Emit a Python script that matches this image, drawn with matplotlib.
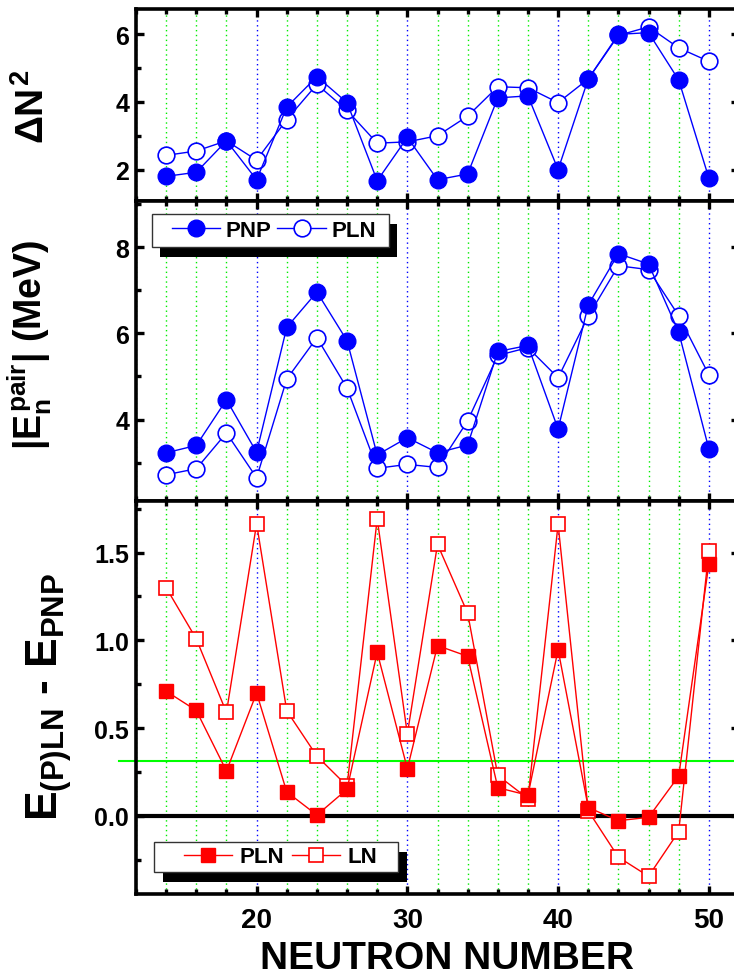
import matplotlib
matplotlib.use("Agg")
import matplotlib.pyplot as plt
from matplotlib.ticker import MultipleLocator, FormatStrFormatter
from matplotlib.lines import Line2D
from matplotlib.patches import Rectangle

plt.rcParams['font.family'] = ['Liberation Sans', 'DejaVu Sans']
plt.rcParams['font.weight'] = 'bold'
plt.rcParams['mathtext.fontset'] = 'custom'
plt.rcParams['mathtext.rm'] = 'Liberation Sans:bold'
plt.rcParams['mathtext.it'] = 'Liberation Sans:bold'
plt.rcParams['mathtext.bf'] = 'Liberation Sans:bold'
plt.rcParams['mathtext.sf'] = 'Liberation Sans:bold'

# Neutron numbers
neutrons = [14, 16, 18, 20, 22, 24, 26, 28, 30, 32, 34, 36, 38, 40, 42, 44, 46, 48, 50]

# Particle-number fluctuation
dn2_pnp = [1.80, 1.92, 2.85, 1.70, 3.85, 4.75, 3.98, 1.67, 2.95, 1.70, 1.87, 4.12, 4.18, 2.00, 4.68, 6.00, 6.05, 4.65, 1.75]
dn2_pln = [2.42, 2.55, 2.85, 2.28, 3.48, 4.52, 3.75, 2.78, 2.82, 3.00, 3.58, 4.45, 4.42, 3.98, 4.68, 5.97, 6.22, 5.60, 5.20]

# Neutron pairing energy |E_n^pair| (MeV)
epair_pnp = [3.23, 3.40, 4.46, 3.24, 6.14, 6.96, 5.83, 3.18, 3.58, 3.23, 3.41, 5.58, 5.72, 3.78, 6.66, 7.85, 7.61, 6.03, 3.32]
epair_pln = [2.72, 2.86, 3.69, 2.65, 4.94, 5.90, 4.73, 2.87, 2.96, 2.89, 3.97, 5.49, 5.67, 4.97, 6.40, 7.57, 7.48, 6.41, 5.04]

# Energy differences with respect to PNP
de_pln = [0.71, 0.60, 0.255, 0.70, 0.136, 0.004, 0.151, 0.932, 0.268, 0.970, 0.909, 0.160, 0.117, 0.947, 0.047, -0.028, -0.009, 0.226, 1.434]
de_ln = [1.30, 1.008, 0.589, 1.665, 0.598, 0.340, 0.170, 1.693, 0.466, 1.547, 1.155, 0.230, 0.098, 1.661, 0.028, -0.236, -0.345, -0.090, 1.509]

ref_level = 0.313

BLUE = '#0000ff'
RED = '#ff0000'
GREEN = '#00ee00'

FW, FH = 734, 979
fig = plt.figure(figsize=(FW / 100, FH / 100), dpi=100)


def fx(px):
    return px / FW


def fy(py):
    return 1 - py / FH


L, W = 0.1853, 0.8215
ax1 = fig.add_axes([L, 0.7940, W, 0.1958])
ax2 = fig.add_axes([L, 0.4872, W, 0.3068])
ax3 = fig.add_axes([L, 0.0858, W, 0.4014])

for ax in (ax1, ax2, ax3):
    ax.set_xlim(12, 52)
    ax.xaxis.set_major_locator(MultipleLocator(10))
    ax.xaxis.set_minor_locator(MultipleLocator(2))
    ax.grid(which='minor', axis='x', color=GREEN, ls=(0, (1, 2.5)), lw=1.0, zorder=0)
    ax.grid(which='major', axis='x', color=BLUE, ls=(0, (1, 2.5)), lw=1.0, zorder=0)
    ax.set_axisbelow(True)
    ax.tick_params(which='both', direction='in', top=True, right=True, width=2.4)
    ax.tick_params(which='major', length=6, labelsize=18, pad=5)
    ax.tick_params(which='minor', length=3.5)
    for sp in ax.spines.values():
        sp.set_linewidth(2.6)

ax1.tick_params(axis='x', labelbottom=False)
ax2.tick_params(axis='x', labelbottom=False)
ax3.tick_params(axis='x', labelsize=20, pad=9)

# Top panel: particle-number fluctuation
ax1.plot(neutrons, dn2_pln, '-o', color=BLUE, mfc='white', mec=BLUE, ms=12, mew=1.2, lw=1.0, zorder=3)
ax1.plot(neutrons, dn2_pnp, '-o', color=BLUE, mfc=BLUE, mec=BLUE, ms=12, lw=1.0, zorder=4)
ax1.set_ylim(1.08, 6.75)
ax1.yaxis.set_major_locator(MultipleLocator(2))
ax1.yaxis.set_minor_locator(MultipleLocator(1))

# Middle panel: pairing energies
ax2.plot(neutrons, epair_pln, '-o', color=BLUE, mfc='white', mec=BLUE, ms=12, mew=1.2, lw=1.0, zorder=3, label='PLN')
ax2.plot(neutrons, epair_pnp, '-o', color=BLUE, mfc=BLUE, mec=BLUE, ms=12, lw=1.0, zorder=4, label='PNP')
ax2.set_ylim(2.11, 9.08)
ax2.yaxis.set_major_locator(MultipleLocator(2))
ax2.yaxis.set_minor_locator(MultipleLocator(1))

# Bottom panel: energy differences
ax3.axhline(0, color='black', lw=3, zorder=2)
ax3.add_line(Line2D([10.87, 52], [ref_level, ref_level], color='#00ff00', lw=1.5, clip_on=False, zorder=2))
ax3.plot(neutrons, de_ln, '-s', color=RED, mfc='white', mec=RED, ms=10, mew=1.2, lw=1.0, zorder=3, label='LN')
ax3.plot(neutrons, de_pln, '-s', color=RED, mfc=RED, mec=RED, ms=10, lw=1.0, zorder=4, label='PLN')
ax3.set_ylim(-0.446, 1.794)
ax3.yaxis.set_major_locator(MultipleLocator(0.5))
ax3.yaxis.set_minor_locator(MultipleLocator(0.25))
ax3.yaxis.set_major_formatter(FormatStrFormatter('%.1f'))


def boxed_legend(ax, box, shift, start_x, handlelength, textpad, colspace):
    """Legend drawn inside a white box with a solid black drop shadow."""
    x0, y0, x1, y1 = box
    dx, dy = shift
    ax.add_patch(Rectangle((fx(x0 + dx), fy(y1 + dy)), fx(x1 - x0), (y1 - y0) / FH,
                           transform=fig.transFigure, facecolor='black', edgecolor='black',
                           lw=0, zorder=8, clip_on=False))
    ax.add_patch(Rectangle((fx(x0), fy(y1)), fx(x1 - x0), (y1 - y0) / FH,
                           transform=fig.transFigure, facecolor='white', edgecolor='#333333',
                           lw=1.0, zorder=9, clip_on=False))
    h, l = ax.get_legend_handles_labels()
    leg = ax.legend([h[1], h[0]], [l[1], l[0]], ncol=2, loc='center left',
                    bbox_to_anchor=(fx(start_x), fy((y0 + y1) / 2)), bbox_transform=fig.transFigure,
                    borderaxespad=0, borderpad=0, prop={'weight': 'bold', 'size': 16},
                    handlelength=handlelength, handletextpad=textpad, columnspacing=colspace,
                    frameon=False)
    leg.set_zorder(10)
    return leg


boxed_legend(ax2, (152, 215, 389, 248), (8, 10), 171.5, 2.2, 0.25, 0.25)
boxed_legend(ax3, (154, 843, 398, 873), (9, 10), 184, 2.15, 0.35, 0.35)

# Axis labels
fig.text(fx(33), fy(107), r'$\Delta N^2$', rotation=90, ha='center', va='center', fontsize=28)
fig.text(fx(30), fy(345), r'$|E_n^{pair}|$ (MeV)', rotation=90, ha='center', va='center', fontsize=27, fontweight='bold')
fig.text(fx(49), fy(697), r'$E_{(P)LN}$ - $E_{PNP}$', rotation=90, ha='center', va='center', fontsize=32, fontweight='bold')
fig.text(fx(447), fy(969), 'NEUTRON NUMBER', ha='center', va='baseline', fontsize=28, fontweight='bold')

fig.savefig('out.png', dpi=100)
